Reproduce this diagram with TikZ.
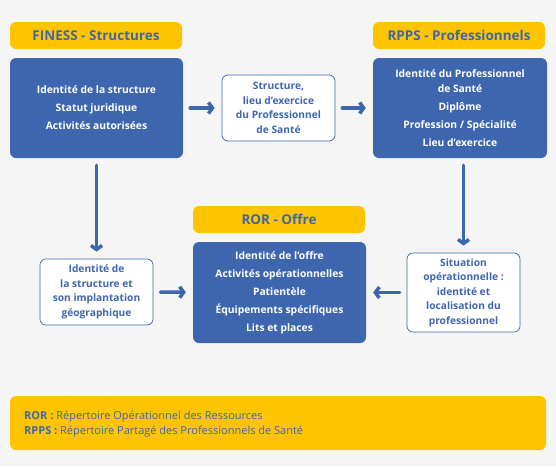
\documentclass[tikz,border=0pt]{standalone}
\usepackage{fontspec}
\setmainfont{Open Sans}
\usetikzlibrary{arrows.meta}
\definecolor{bleu}{HTML}{3D66AE}
\definecolor{jaune}{HTML}{FFC400}
\definecolor{fond}{HTML}{F5F5F5}
\tikzset{
  titre/.style={fill=jaune, rounded corners=6pt, text=bleu, inner sep=0pt,
    minimum width=172pt, minimum height=27pt, font=\bfseries\fontsize{13.5}{15}\selectfont},
  bloc/.style={fill=bleu, rounded corners=6pt, text=white, inner sep=0pt, align=center,
    minimum width=173pt, minimum height=100pt, font=\bfseries\fontsize{10.3}{15}\selectfont},
  cadre/.style={draw=bleu, line width=0.7pt, fill=white, rounded corners=6pt, text=bleu,
    inner sep=0pt, align=center, minimum width=113pt, minimum height=66pt,
    font=\bfseries\fontsize{10.2}{14.5}\selectfont},
  fleche/.style={draw=bleu, line width=3.5pt, line cap=round,
    -{Straight Barb[length=4pt,width=11pt]}, shorten <=7pt, shorten >=7pt}
}
\begin{document}
\begin{tikzpicture}[x=1pt,y=-1pt]
\fill[fond] (0,0) rectangle (556,466);
\useasboundingbox (0,0) rectangle (556,466);

% haut
\node[titre] (tfiness) at (96,35.5) {FINESS - Structures};
\node[bloc] (finess) at (96.5,108) {Identité de la structure\\[3pt]Statut juridique\\[3pt]Activités autorisées};
\node[cadre] (lieu) at (278.5,108) {Structure,\\lieu d’exercice\\du Professionnel\\de Santé};
\node[titre] (trpps) at (459,35.5) {RPPS - Professionnels};
\node[bloc, minimum width=174pt] (rpps) at (460,108) {Identité du Professionnel\\de Santé\\[3pt]Diplôme\\[3pt]Profession / Spécialité\\[3pt]Lieu d’exercice};

% bas
\node[titre] (tror) at (279,219.5) {ROR - Offre};
\node[bloc, minimum height=101pt] (ror) at (279.5,292.5) {Identité de l’offre\\[3pt]Activités opérationnelles\\[3pt]Patientèle\\[3pt]Équipements spécifiques\\[3pt]Lits et places};
\node[cadre] (implant) at (96.5,292) {Identité de\\la structure et\\son implantation\\géographique};
\node[cadre, minimum height=79pt] (situation) at (463.5,292.5) {Situation\\opérationnelle :\\identité et\\localisation du\\professionnel};

\draw[fleche] (finess) -- (lieu);
\draw[fleche] (lieu) -- (rpps);
\draw[fleche] (finess) -- (implant);
\draw[fleche] (situation.north |- rpps.south) -- (situation.north);
\draw[fleche] (implant) -- (ror);
\draw[fleche] (situation.west) -- (situation.west -| ror.east);

% legende
\fill[jaune, rounded corners=6pt] (10,396) rectangle (546,450);
\node[anchor=west, align=left, text=bleu, inner sep=0pt, font=\fontsize{11}{15}\selectfont] (legende) at (24,424.5)
  {\textbf{ROR :} Répertoire Opérationnel des Ressources\\\textbf{RPPS :} Répertoire Partagé des Professionnels de Santé};
\end{tikzpicture}
\end{document}
